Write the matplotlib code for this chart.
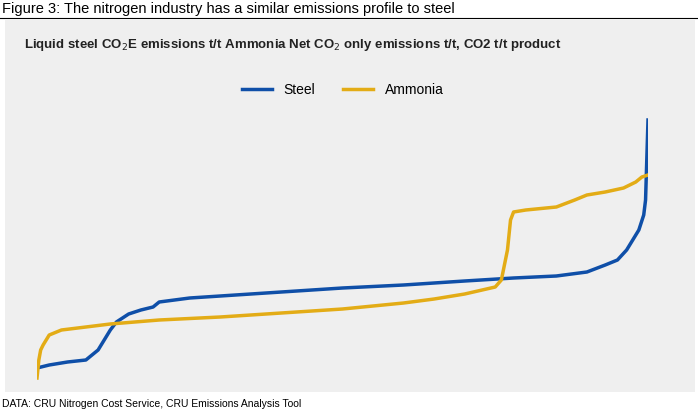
import numpy as np
import matplotlib.pyplot as plt

# percentile of capacity (0-100) and emissions (arbitrary units)
steel_x = [0, 2, 5, 8, 9, 10, 11, 12, 13, 14, 15, 17, 19, 20, 25, 30, 40, 50, 60, 70, 78, 85, 90, 93, 95, 96.5, 97.5, 98.5, 99.3, 99.6, 99.8, 100]
steel_y = [32, 35, 38, 40, 45, 50, 60, 70, 78, 82, 86, 90, 93, 98, 102, 104, 108, 112, 115, 119, 122, 124, 128, 135, 140, 150, 160, 170, 185, 200, 240, 280]
amm_x = [0, 0.3, 0.6, 1, 2, 4, 8, 12, 20, 30, 40, 50, 60, 65, 70, 75, 76, 77, 77.5, 78, 80, 85, 88, 90, 93, 96, 98, 99, 100]
amm_y = [22, 40, 50, 55, 65, 70, 73, 76, 80, 83, 87, 91, 97, 101, 106, 113, 120, 150, 180, 188, 190, 193, 200, 205, 208, 212, 218, 223, 225]

fig = plt.figure(figsize=(6.98, 4.12), dpi=100)
bg = fig.add_axes([5/698, 1 - 392/412, 690/698, 372/412])
bg.set_facecolor("#efefef")
bg.set_xticks([])
bg.set_yticks([])
for s in bg.spines.values():
    s.set_visible(False)

fig.add_artist(plt.Line2D([0, 1], [1 - 18/412]*2, color="black", lw=0.8))
fig.text(0.003, 1 - 9/412, "Figure 3: The nitrogen industry has a similar emissions profile to steel",
         fontsize=10.5, va="center", family="Liberation Sans")
fig.text(24/698, 1 - 45/412,
         "Liquid steel CO$_2$E emissions t/t Ammonia Net CO$_2$ only emissions t/t, CO2 t/t product",
         fontsize=9.5, fontweight="bold", va="center", color="#222222", family="Liberation Sans")
fig.text(0.003, 1 - 404/412, "DATA: CRU Nitrogen Cost Service, CRU Emissions Analysis Tool",
         fontsize=7.5, va="center", family="Liberation Sans")

ax = fig.add_axes([37/698, 1 - 385/412, 611/698, 275/412])
ax.patch.set_alpha(0)
ax.plot(steel_x, steel_y, color="#0f4fa8", lw=2.5, label="Steel")
ax.plot(amm_x, amm_y, color="#e3ac16", lw=2.5, label="Ammonia")
ax.set_xlim(0, 100)
ax.set_ylim(15, 290)
ax.axis("off")
ax.legend(loc="center", bbox_to_anchor=(0.5, 1 + 20/275), ncol=2, frameon=False,
          prop={"family": "Liberation Sans", "size": 10}, handlelength=2.2, columnspacing=2)
fig.savefig("out.png", dpi=100)
